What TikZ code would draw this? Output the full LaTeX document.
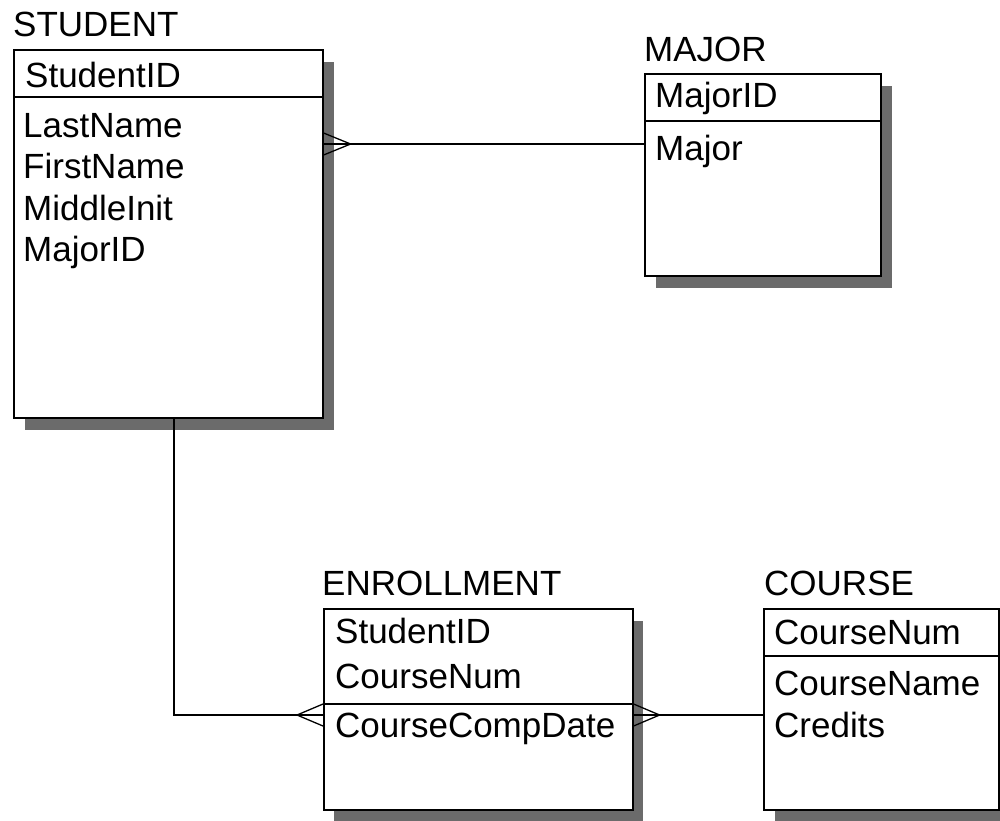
\documentclass[tikz,border=0pt]{standalone}
\usepackage{fontspec}
\setmainfont{Liberation Sans}
\begin{document}
\begin{tikzpicture}[x=1pt,y=-1pt,
  ent/.style={draw=black, line width=1.6pt, fill=white, rectangle, anchor=north west, inner sep=0pt},
  shadowbox/.style={fill=black!58, draw=none, rectangle, anchor=north west, inner sep=0pt},
  txt/.style={anchor=base west, inner sep=0pt, font=\fontsize{35}{42}\selectfont},
  sep/.style={line width=1.6pt},
  conn/.style={line width=1.3pt}]
\useasboundingbox (0,0) rectangle (1000,820);
% ---------- STUDENT ----------
\node[shadowbox, minimum width=309pt, minimum height=368pt] (studentsh) at (25,62) {};
\node[ent, minimum width=309pt, minimum height=368pt] (student) at (13,49) {};
\node[txt] (studentlbl) at (13,36) {STUDENT};
\draw[sep] (13,97) -- (322,97);
\node[txt] (s1) at (25,87) {StudentID};
\node[txt] (s2) at (23,137) {LastName};
\node[txt] (s3) at (23,178) {FirstName};
\node[txt] (s4) at (23,220) {MiddleInit};
\node[txt] (s5) at (23,261) {MajorID};
% ---------- MAJOR ----------
\node[shadowbox, minimum width=236pt, minimum height=202pt] (majorsh) at (656,86) {};
\node[ent, minimum width=236pt, minimum height=202pt] (major) at (644,73) {};
\node[txt] (majorlbl) at (644,61) {MAJOR};
\draw[sep] (644,121) -- (880,121);
\node[txt] (m1) at (655,107) {MajorID};
\node[txt] (m2) at (655,160) {Major};
% ---------- ENROLLMENT ----------
\node[shadowbox, minimum width=309pt, minimum height=201pt] (enrollsh) at (334,621) {};
\node[ent, minimum width=309pt, minimum height=201pt] (enroll) at (323,608) {};
\node[txt] (enrolllbl) at (322,595) {ENROLLMENT};
\draw[sep] (323,704) -- (632,704);
\node[txt] (e1) at (335,643) {StudentID};
\node[txt] (e2) at (335,688) {CourseNum};
\node[txt] (e3) at (335,737) {CourseCompDate};
% ---------- COURSE ----------
\node[shadowbox, minimum width=236pt, minimum height=201pt] (coursesh) at (775,621) {};
\node[ent, minimum width=235pt, minimum height=201pt] (course) at (763,608) {};
\node[txt] (courselbl) at (764,595) {COURSE};
\draw[sep] (763,656) -- (998,656);
\node[txt] (c1) at (774,644) {CourseNum};
\node[txt] (c2) at (774,695) {CourseName};
\node[txt] (c3) at (774,737) {Credits};
% ---------- connectors ----------
\coordinate (ysm) at (0,144);
\coordinate (yec) at (0,715);
\coordinate (xse) at (174,0);
% STUDENT -- MAJOR (many at STUDENT)
\coordinate (smA) at (student.east |- ysm);
\coordinate (smT) at ([xshift=27pt]smA);
\draw[conn] (smT) -- (major.west |- ysm);
\draw[conn] ([yshift=11pt]smA) -- (smT) -- ([yshift=-11pt]smA);
\draw[conn] (smA) -- (smT);
% STUDENT -- ENROLLMENT (many at ENROLLMENT)
\coordinate (seA) at (enroll.west |- yec);
\coordinate (seT) at ([xshift=-26pt]seA);
\draw[conn] (student.south -| xse) |- (seA);
\draw[conn] ([yshift=11pt]seA) -- (seT) -- ([yshift=-11pt]seA);
% ENROLLMENT -- COURSE (many at ENROLLMENT)
\coordinate (ecA) at (enroll.east |- yec);
\coordinate (ecT) at ([xshift=26pt]ecA);
\draw[conn] (ecA) -- (course.west |- yec);
\draw[conn] ([yshift=11pt]ecA) -- (ecT) -- ([yshift=-11pt]ecA);
\end{tikzpicture}
\end{document}
